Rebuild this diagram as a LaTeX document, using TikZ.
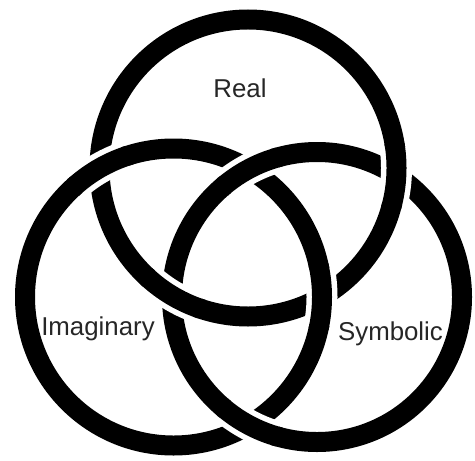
\documentclass[tikz,border=0pt]{standalone}
\usepackage{fontspec}
\setmainfont{Liberation Sans}
\usetikzlibrary{intersections}

\begin{document}
\begin{tikzpicture}[
  x=0.02cm, y=0.02cm,
  every node/.style={font=\fontsize{14.7}{17}\selectfont, inner sep=0pt},
  ring/.style={draw=black, line width=0.4cm},
  ringgap/.style={draw=white, line width=0.62cm},
  lbl/.style={anchor=base, text=black!85}
]
  \useasboundingbox (0,0) rectangle (475,460);

  \coordinate (real) at (248,292);
  \coordinate (imag) at (173.5,163);
  \coordinate (symb) at (317,163);

  \draw[ring, name path=realring] (real) circle (148.5);
  \draw[ring, name path=imagring] (imag) circle (148.5);
  \draw[ring, name path=symbring] (symb) circle (145);

  \path[name intersections={of=imagring and realring, name=ir}];
  \path[name intersections={of=realring and symbring, name=rs}];
  \path[name intersections={of=symbring and imagring, name=si}];

  \begin{scope} \clip (ir-1) circle (30); \draw[ringgap] (imag) circle (148.5); \end{scope}
  \begin{scope} \clip (ir-1) circle (34); \draw[ring] (imag) circle (148.5); \end{scope}
  \begin{scope} \clip (ir-2) circle (30); \draw[ringgap] (imag) circle (148.5); \end{scope}
  \begin{scope} \clip (ir-2) circle (34); \draw[ring] (imag) circle (148.5); \end{scope}
  \begin{scope} \clip (rs-1) circle (30); \draw[ringgap] (real) circle (148.5); \end{scope}
  \begin{scope} \clip (rs-1) circle (34); \draw[ring] (real) circle (148.5); \end{scope}
  \begin{scope} \clip (rs-2) circle (30); \draw[ringgap] (real) circle (148.5); \end{scope}
  \begin{scope} \clip (rs-2) circle (34); \draw[ring] (real) circle (148.5); \end{scope}
  \begin{scope} \clip (si-1) circle (30); \draw[ringgap] (symb) circle (145); \end{scope}
  \begin{scope} \clip (si-1) circle (34); \draw[ring] (symb) circle (145); \end{scope}
  \begin{scope} \clip (si-2) circle (30); \draw[ringgap] (symb) circle (145); \end{scope}
  \begin{scope} \clip (si-2) circle (34); \draw[ring] (symb) circle (145); \end{scope}

  \node[lbl] (reallbl) at (240,362) {Real};
  \node[lbl] (imaglbl) at (98,125)  {Imaginary};
  \node[lbl] (symblbl) at (390.5,120) {Symbolic};
\end{tikzpicture}
\end{document}
